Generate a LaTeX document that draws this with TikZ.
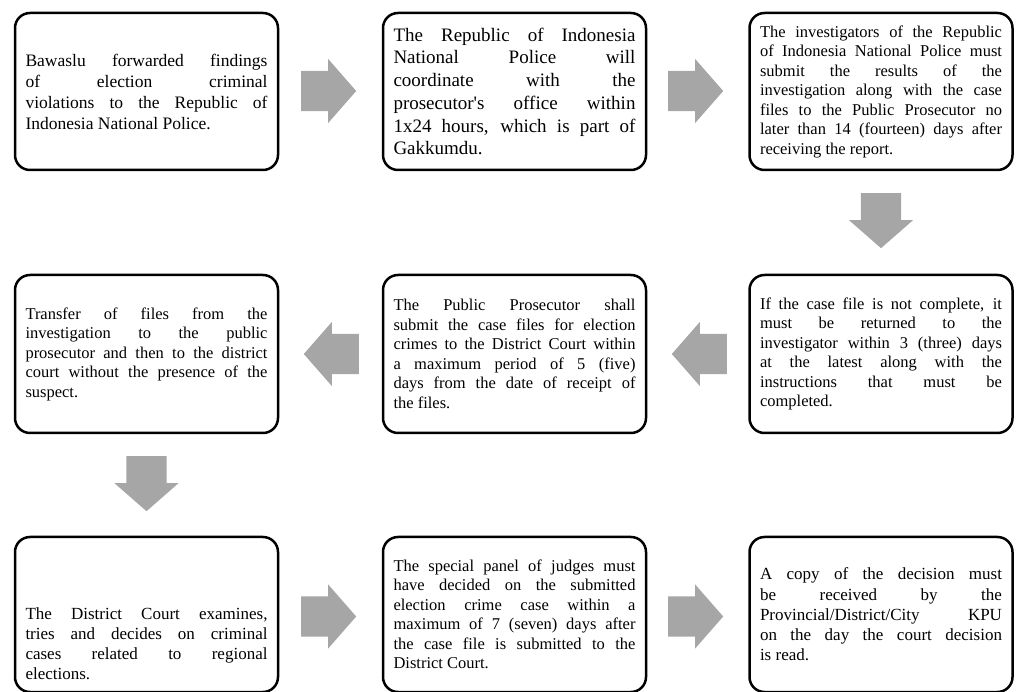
\documentclass[tikz,border=0pt]{standalone}
\usepackage{fontspec}
\setmainfont{Liberation Serif}
\usetikzlibrary{shapes.arrows}

\definecolor{arrowgray}{RGB}{166,166,166}
\tolerance=10000
\hbadness=10000
\hyphenpenalty=10000
\exhyphenpenalty=10000

\tikzstyle{stepnode} = [draw, line width=2.5pt, rounded corners=15pt, text width=242pt, inner xsep=10.5pt, inner ysep=0pt, align=justify, minimum height=157pt, font=\fontsize{16.5}{19.5}\selectfont]
\tikzstyle{bigarrow} = [single arrow, fill=arrowgray, draw=none, inner xsep=0pt, inner ysep=20pt, minimum height=55pt, single arrow head extend=12pt, single arrow tip angle=97.6, anchor=tail]

\begin{document}
\begin{tikzpicture}[x=1pt, y=1pt]
  \useasboundingbox (0,0) rectangle (1017,691);

  % top row
  \node at (146.5,599.5) [stepnode, font=\fontsize{17.5}{21}\selectfont] (forward) {Bawaslu forwarded findings \linebreak of election criminal \linebreak violations to the Republic of \linebreak Indonesia National Police.};
  \node at (514.5,599.5) [stepnode, font=\fontsize{19}{22.7}\selectfont] (coordinate) {The Republic of Indonesia \linebreak National Police will \linebreak coordinate with the \linebreak prosecutor\textquotesingle s office within \linebreak 1x24 hours, which is part of \linebreak Gakkumdu.};
  \node at (881,599.5) [stepnode] (investigate) {The investigators of the Republic \linebreak of Indonesia National Police must \linebreak submit the results of the \linebreak investigation along with the case \linebreak files to the Public Prosecutor no \linebreak later than 14 (fourteen) days after \linebreak receiving the report.};

  % middle row
  \node at (881,337) [stepnode, minimum height=158pt] (returned) {If the case file is not complete, it \linebreak must be returned to the \linebreak investigator within 3 (three) days \linebreak at the latest along with the \linebreak instructions that must be \linebreak completed.};
  \node at (514.5,337) [stepnode, minimum height=158pt] (prosecutor) {The Public Prosecutor shall \linebreak submit the case files for election \linebreak crimes to the District Court within \linebreak a maximum period of 5 (five) \linebreak days from the date of receipt of \linebreak the files.};
  \node at (146.5,337) [stepnode, minimum height=158pt] (transfer) {Transfer of files from the \linebreak investigation to the public \linebreak prosecutor and then to the district \linebreak court without the presence of the \linebreak suspect.};

  % bottom row (text of the first box sits lower)
  \node at (146.5,76.5) [stepnode, minimum height=155pt, font=\fontsize{17}{20}\selectfont] (court) {\rule{0pt}{70pt}The District Court examines, \linebreak tries and decides on criminal \linebreak cases related to regional \linebreak elections.};
  \node at (514.5,76.5) [stepnode, minimum height=155pt] (judges) {The special panel of judges must \linebreak have decided on the submitted \linebreak election crime case within a \linebreak maximum of 7 (seven) days after \linebreak the case file is submitted to the \linebreak District Court.};
  \node at (881,76.5) [stepnode, minimum height=155pt, font=\fontsize{17}{20.3}\selectfont] (copy) {A copy of the decision must \linebreak be received by the \linebreak Provincial/District/City KPU \linebreak on the day the court decision \linebreak is read.};

  % block arrows
  \node at (301,600) [bigarrow] (a12) {};
  \node at (668,600) [bigarrow] (a23) {};
  \node at (881,498) [bigarrow, rotate=-90] (a36) {};
  \node at (727,337) [bigarrow, rotate=180] (a65) {};
  \node at (359,337) [bigarrow, rotate=180] (a54) {};
  \node at (146.5,235) [bigarrow, rotate=-90] (a47) {};
  \node at (301,74.5) [bigarrow] (a78) {};
  \node at (668,74.5) [bigarrow] (a89) {};
\end{tikzpicture}
\end{document}
